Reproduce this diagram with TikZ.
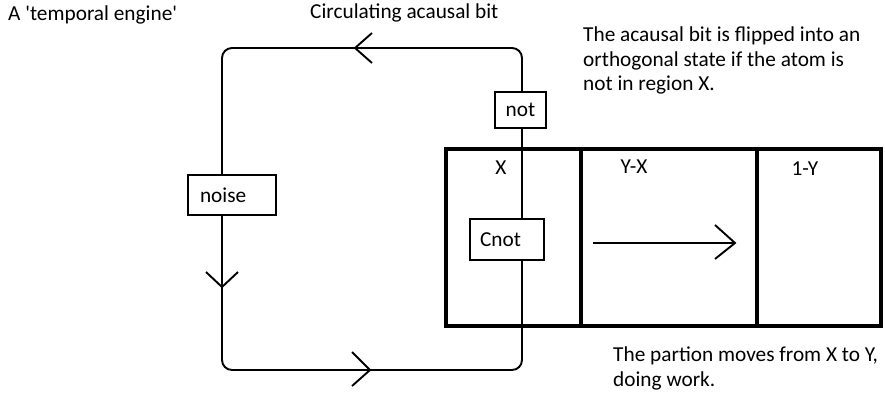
\documentclass[tikz,border=0pt]{standalone}
\usepackage{fontspec}
\setmainfont{Carlito}
\begin{document}
\begin{tikzpicture}[x=1pt,y=-1pt,
  txt/.style={font=\fontsize{21.3}{24.5}\selectfont, inner sep=0pt},
  gate/.style={draw, line width=1.6pt, fill=white, font=\fontsize{21.3}{24.5}\selectfont, inner ysep=0pt},
  wire/.style={line width=1.9pt},
  chev/.style={line width=1.9pt},
  frame/.style={line width=4pt}]
\useasboundingbox (0,0) rectangle (885,394);
% big box
\draw[frame] (446,149) rectangle (881,326);
\draw[frame] (581,149) -- (581,326);
\draw[frame] (757,149) -- (757,326);
% gates
\node[gate, minimum width=51, minimum height=36, inner xsep=0pt] (not) at (520.5,110) {not};
\node[gate, minimum height=40, text width=64, inner xsep=12, align=left] (noise) at (232,195) {noise};
\node[gate, minimum height=41, text width=54, inner xsep=10, align=left] (cnot) at (507,239.5) {Cnot};
\coordinate (tr) at (522,48);
\coordinate (tl) at (222,48);
\coordinate (bl) at (222,370);
\coordinate (br) at (522,370);
% loop wires
\draw[wire, rounded corners=10] (not.north -| tr) -- (tr) -- (tl) -- (noise.north -| tl);
\draw[wire, rounded corners=10] (noise.south -| bl) -- (bl) -- (br) -- (cnot.south -| br);
\draw[wire] (cnot.north -| tr) -- (not.south -| tr);
% chevrons on loop
\draw[chev] (372,33) -- (355,48) -- (372,63);
\draw[chev] (206,272) -- (222,287) -- (238,272);
\draw[chev] (352,352) -- (370,370) -- (352,386);
% arrow in box
\coordinate (a1) at (593,243);
\coordinate (a2) at (735,243);
\draw[chev] (a1) -- (a2);
\draw[chev] (715,225) -- (a2) -- (715,259);
% region labels
\node[txt] (lx) at (501,168) {X};
\node[txt] (lyx) at (634,167) {Y-X};
\node[txt] (l1y) at (805,169) {1-Y};
% texts
\node[txt, anchor=west] (title) at (8,15) {A \textquotesingle temporal engine\textquotesingle};
\node[txt, anchor=west] (circ) at (310,13) {Circulating acausal bit};
\node[txt, anchor=north west, align=left] (note1) at (583,27) {The acausal bit is flipped into an\\orthogonal state if the atom is\\not in region X.};
\node[txt, anchor=north west, align=left] (note2) at (613,347) {The partion moves from X to Y,\\doing work.};
\end{tikzpicture}
\end{document}
